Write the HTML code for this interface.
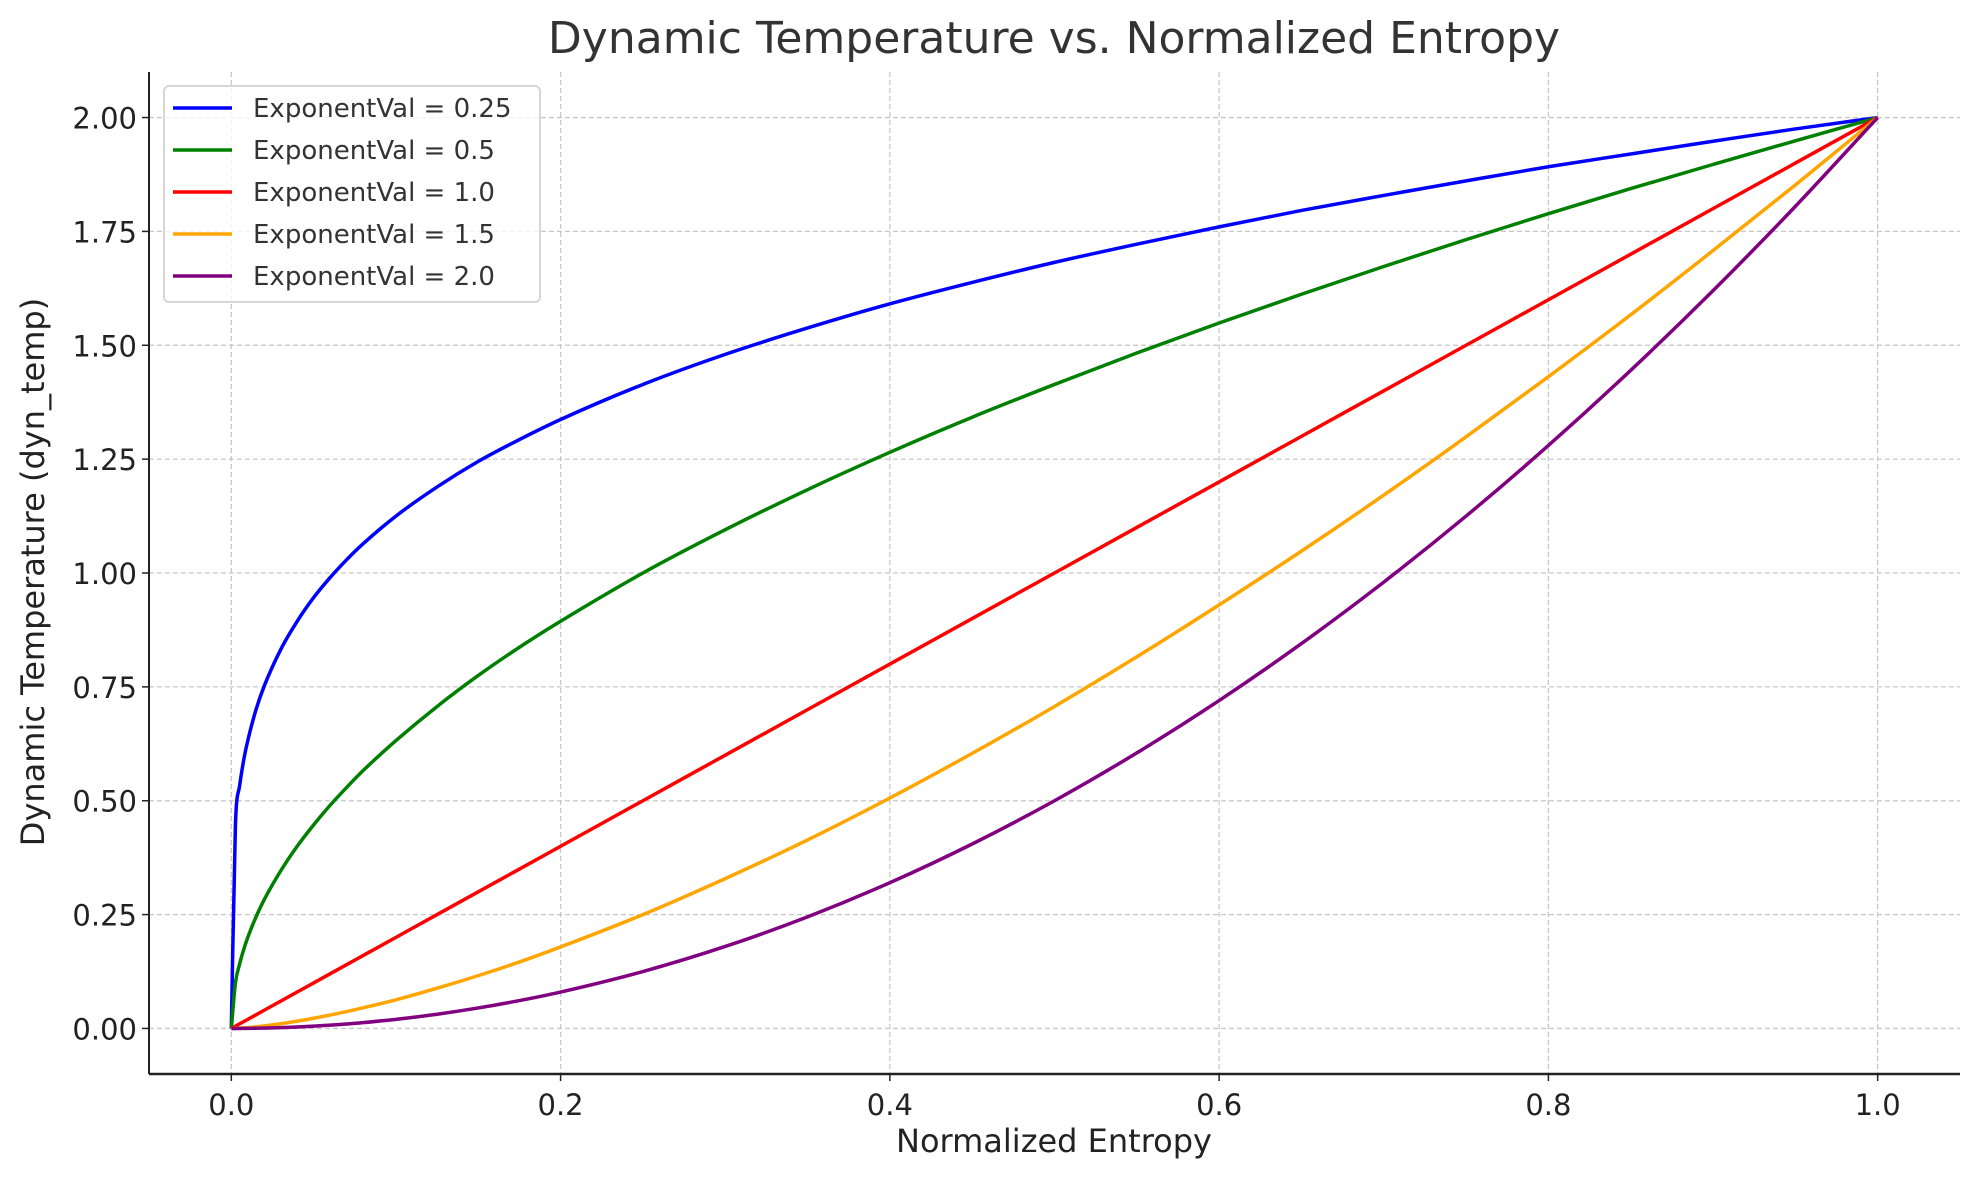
<!DOCTYPE html>
<html><head><meta charset="utf-8"><style>
body{margin:0;background:#fff;}
svg text{font-family:"DejaVu Sans","Liberation Sans",sans-serif;}
</style></head><body>
<svg id="chart" width="1979" height="1180" xmlns="http://www.w3.org/2000/svg">
<text x="1054" y="53" font-size="44" fill="#333" text-anchor="middle">Dynamic Temperature vs. Normalized Entropy</text>
<g id="grid"></g>
<g id="series"></g>
<g id="axes"></g>
<text x="1054" y="1152" font-size="32" fill="#222" text-anchor="middle">Normalized Entropy</text>
<text transform="translate(44,572) rotate(-90)" font-size="32" fill="#222" text-anchor="middle">Dynamic Temperature (dyn_temp)</text>
<g id="legend"></g>
</svg>
<script>
const xs=[0,0.0025,0.005,0.0075,0.01,0.015,0.02,0.03,0.04,0.05,0.06,0.07,0.08,0.1,0.125,0.15,0.175,0.2,0.25,0.3,0.35,0.4,0.45,0.5,0.55,0.6,0.65,0.7,0.75,0.8,0.85,0.9,0.95,1];
const yP025=[0,0.447,0.532,0.589,0.632,0.700,0.752,0.832,0.894,0.946,0.990,1.029,1.064,1.125,1.189,1.245,1.293,1.337,1.414,1.480,1.538,1.591,1.638,1.682,1.722,1.760,1.796,1.829,1.861,1.892,1.920,1.948,1.975,2];
const yP05=[0,0.1,0.141,0.173,0.2,0.245,0.283,0.346,0.4,0.447,0.490,0.529,0.566,0.632,0.707,0.775,0.837,0.894,1.0,1.095,1.183,1.265,1.342,1.414,1.483,1.549,1.612,1.673,1.732,1.789,1.844,1.897,1.949,2];
const yP10=[0,0.005,0.01,0.015,0.02,0.03,0.04,0.06,0.08,0.1,0.12,0.14,0.16,0.2,0.25,0.3,0.35,0.4,0.5,0.6,0.7,0.8,0.9,1.0,1.1,1.2,1.3,1.4,1.5,1.6,1.7,1.8,1.9,2];
const yP15=[0,0.0003,0.0007,0.0013,0.002,0.0037,0.0057,0.0104,0.016,0.0224,0.0294,0.037,0.0453,0.063,0.0884,0.116,0.146,0.179,0.25,0.329,0.414,0.506,0.604,0.707,0.816,0.930,1.048,1.171,1.299,1.431,1.567,1.708,1.852,2];
const yP20=[0,0,0,0.0001,0.0002,0.00045,0.0008,0.0018,0.0032,0.005,0.0072,0.0098,0.0128,0.02,0.03125,0.045,0.06125,0.08,0.125,0.18,0.245,0.32,0.405,0.5,0.605,0.72,0.845,0.98,1.125,1.28,1.445,1.62,1.805,2];
const seriesNames=["ExponentVal = 0.25","ExponentVal = 0.5","ExponentVal = 1.0","ExponentVal = 1.5","ExponentVal = 2.0"];
const seriesColors=["#0000ff","#008000","#ff0000","#ffa500","#800080"];
const xTicks=[0,0.2,0.4,0.6,0.8,1.0];
const xTickLabels=["0.0","0.2","0.4","0.6","0.8","1.0"];
const yTicks=[0,0.25,0.5,0.75,1,1.25,1.5,1.75,2];
const yTickLabels=["0.00","0.25","0.50","0.75","1.00","1.25","1.50","1.75","2.00"];

const L=149,R=1960,T=72,B=1074,xMin=-0.05,xMax=1.05,yMin=-0.1,yMax=2.1;
const X=v=>L+(v-xMin)/(xMax-xMin)*(R-L);
const Y=v=>B-(v-yMin)/(yMax-yMin)*(B-T);
const NS="http://www.w3.org/2000/svg";
function mk(tag,attrs,parent,text){const e=document.createElementNS(NS,tag);for(const k in attrs)e.setAttribute(k,attrs[k]);if(text!==undefined)e.textContent=text;parent.appendChild(e);return e;}
function monotonePath(px,py){
 const n=px.length,d=[],m=[];
 for(let i=0;i<n-1;i++){d.push((py[i+1]-py[i])/(px[i+1]-px[i]));}
 m[0]=d[0];m[n-1]=d[n-2];
 for(let i=1;i<n-1;i++){m[i]=(d[i-1]*d[i]<=0)?0:(d[i-1]+d[i])/2;}
 for(let i=0;i<n-1;i++){if(d[i]===0){m[i]=0;m[i+1]=0;continue;}const a=m[i]/d[i],b=m[i+1]/d[i],s=a*a+b*b;if(s>9){const t=3/Math.sqrt(s);m[i]=t*a*d[i];m[i+1]=t*b*d[i];}}
 let p='M'+px[0].toFixed(2)+','+py[0].toFixed(2);
 for(let i=0;i<n-1;i++){const h=(px[i+1]-px[i])/3;p+=' C'+(px[i]+h).toFixed(2)+','+(py[i]+m[i]*h).toFixed(2)+' '+(px[i+1]-h).toFixed(2)+','+(py[i+1]-m[i+1]*h).toFixed(2)+' '+px[i+1].toFixed(2)+','+py[i+1].toFixed(2);}
 return p;
}
const grid=document.getElementById('grid'),axes=document.getElementById('axes'),ser=document.getElementById('series'),leg=document.getElementById('legend');
xTicks.forEach((t,i)=>{
 const g=mk('line',{x1:X(t),x2:X(t),y1:T,y2:B,stroke:'#c8c8c8','stroke-width':1.3,'stroke-dasharray':'5,3'},grid);
 
 
 const tk=mk('line',{x1:X(t),x2:X(t),y1:B,y2:B+7,stroke:'#222','stroke-width':1.5},axes);
 
 
 const lb=mk('text',{x:X(t),y:B+41,'font-size':29,fill:'#222','text-anchor':'middle'},axes,xTickLabels[i]);
 
 
});
yTicks.forEach((t,i)=>{
 const g=mk('line',{x1:L,x2:R,y1:Y(t),y2:Y(t),stroke:'#c8c8c8','stroke-width':1.3,'stroke-dasharray':'5,3'},grid);
 
 
 const tk=mk('line',{x1:L-7,x2:L,y1:Y(t),y2:Y(t),stroke:'#222','stroke-width':1.5},axes);
 
 
 const lb=mk('text',{x:L-12,y:Y(t)+11,'font-size':29,fill:'#222','text-anchor':'end'},axes,yTickLabels[i]);
 
 
});
const sp1=mk('line',{x1:L,x2:L,y1:T,y2:B,stroke:'#222','stroke-width':2},axes);


const sp2=mk('line',{x1:L,x2:R,y1:B,y2:B,stroke:'#222','stroke-width':2.5},axes);


const allY=[yP025,yP05,yP10,yP15,yP20];
allY.forEach((ys,s)=>{
 const px=xs.map(X),py=ys.map(Y);
 const p=mk('path',{d:monotonePath(px,py),fill:'none',stroke:seriesColors[s],'stroke-width':3.5,'stroke-linejoin':'round'},ser);
 
 
});
const box=mk('rect',{x:164,y:86,width:376,height:216,rx:5,fill:'#fff','fill-opacity':0.8,stroke:'#d6d6d6','stroke-width':2},leg);


seriesNames.forEach((n,i)=>{
 const y=108+i*42;
 const l=mk('line',{x1:173,x2:232,y1:y,y2:y,stroke:seriesColors[i],'stroke-width':3.5},leg);
 
 
 const t=mk('text',{x:253,y:y+9,'font-size':26,fill:'#333'},leg,n);
 
 
});
</script>
</body></html>
